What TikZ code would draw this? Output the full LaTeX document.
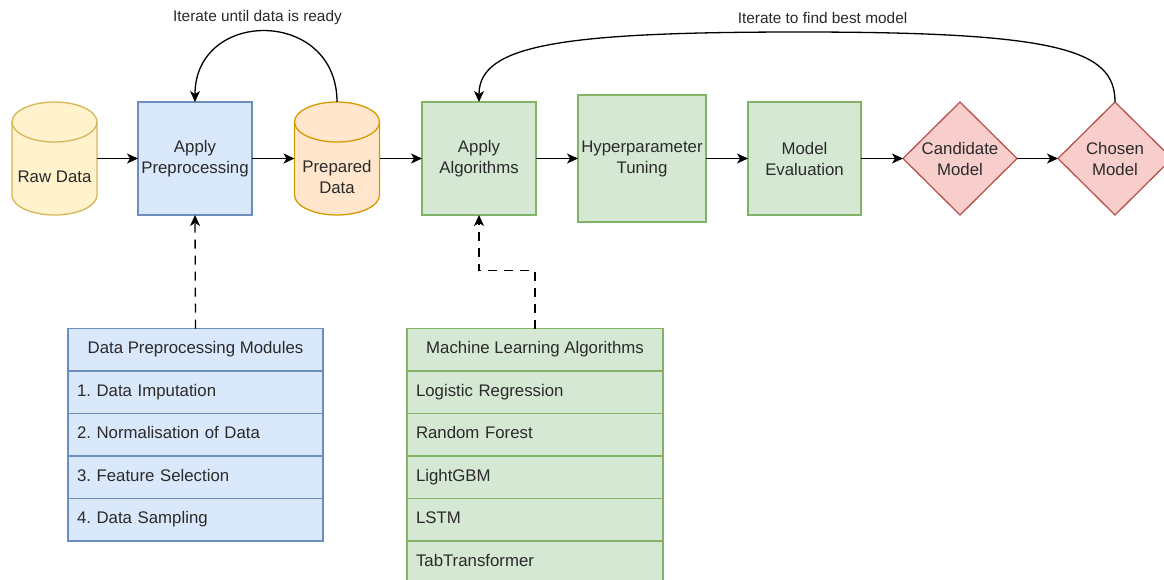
\documentclass[tikz,border=0pt]{standalone}
\usepackage{fontspec}
\setmainfont{Liberation Sans}
\usetikzlibrary{arrows.meta}
\frenchspacing
\definecolor{yfill}{HTML}{FFF2CC}\definecolor{ydraw}{HTML}{D6B656}
\definecolor{bfill}{HTML}{DAE8FC}\definecolor{bdraw}{HTML}{6C8EBF}
\definecolor{ofill}{HTML}{FFE6CC}\definecolor{odraw}{HTML}{D79B00}
\definecolor{gfill}{HTML}{D5E8D4}\definecolor{gdraw}{HTML}{82B366}
\definecolor{rfill}{HTML}{F8CECC}\definecolor{rdraw}{HTML}{B85450}
\definecolor{txt}{HTML}{2A2A2A}
\newcommand{\mycylinder}[3]{%
  \filldraw[fill=#2,draw=#3,line width=1.3pt]
    ([yshift=-20pt]#1.north west) -- ([yshift=20pt]#1.south west)
    arc[start angle=180,end angle=360,x radius=42.5pt,y radius=20pt]
    -- ([yshift=-20pt]#1.north east)
    arc[start angle=0,end angle=180,x radius=42.5pt,y radius=20pt] -- cycle;
  \draw[draw=#3,line width=1.3pt] ([yshift=-20pt]#1.north west)
    arc[start angle=180,end angle=360,x radius=42.5pt,y radius=20pt];}
\newcommand{\mydiamond}[3]{%
  \filldraw[fill=#2,draw=#3,line width=1.3pt]
    (#1.north) -- (#1.east) -- (#1.south) -- (#1.west) -- cycle;}
\tikzset{
  x=1pt,y=1pt,
  every node/.style={text=txt,font=\fontsize{16.8}{21}\selectfont},
  ghost/.style={draw=none,fill=none,inner sep=0pt,outer sep=0pt,minimum width=85pt,minimum height=113pt},
  ghostd/.style={draw=none,fill=none,inner sep=0pt,outer sep=0pt,minimum width=114pt,minimum height=113pt},
  plain/.style={draw=none,fill=none,inner sep=0pt,align=center},
  box/.style={line width=1.3pt,inner sep=0pt,outer sep=0pt,align=center,minimum width=114pt,minimum height=113pt},
  bluebox/.style={box,fill=bfill,draw=bdraw},
  greenbox/.style={box,fill=gfill,draw=gdraw},
  thead/.style={line width=1.3pt,inner sep=0pt,outer sep=0pt,minimum width=255pt,minimum height=42.5pt,align=center,text height=12pt,text depth=4pt},
  trow/.style={line width=1.3pt,inner ysep=0pt,inner xsep=9pt,outer sep=0pt,text width=237pt,minimum height=42.5pt,align=left,text height=12pt,text depth=4pt},
  arr/.style={line width=1.3pt,draw=black,-{Stealth[length=11pt,width=10pt,inset=3pt]}},
  dashline/.style={dash pattern=on 9pt off 7pt},
  lbl/.style={plain,font=\fontsize{15.4}{18}\selectfont}
}
\begin{document}
\begin{tikzpicture}
\useasboundingbox (0,0) rectangle (1164,-579);
\fill[white] (0,0) rectangle (1164,-579);
\clip (0,0) rectangle (1164,-579);
% main row
\node[ghost] (raw) at (54.5,-158.5) {};
\node[bluebox] (app) at (195,-158.5) {Apply\\Preprocessing};
\node[ghost] (prep) at (337,-158.5) {};
\node[greenbox] (alg) at (479,-158.5) {Apply\\Algorithms};
\node[greenbox,minimum width=128pt,minimum height=127pt] (hyp) at (642,-158.5) {Hyperparameter\\Tuning};
\node[greenbox,minimum width=113pt] (eval) at (804.5,-158.5) {Model\\Evaluation};
\node[ghostd] (cand) at (960,-158.5) {};
\node[ghostd] (chos) at (1115,-158.5) {};
\mycylinder{raw}{yfill}{ydraw}
\mycylinder{prep}{ofill}{odraw}
\mydiamond{cand}{rfill}{rdraw}
\mydiamond{chos}{rfill}{rdraw}
\node[plain] (rawt) at (54.5,-177) {Raw Data};
\node[plain] (prept) at (337,-177) {Prepared\\Data};
\node[plain] (candt) at (cand) {Candidate\\Model};
\node[plain] (chost) at (chos) {Chosen\\Model};
% arrows
\draw[arr] (raw.east) -- (app.west);
\draw[arr] (app.east) -- (prep.west);
\draw[arr] (prep.east) -- (alg.west);
\draw[arr] (alg.east) -- (hyp.west);
\draw[arr] (hyp.east) -- (eval.west);
\draw[arr] (eval.east) -- (cand.west);
\draw[arr] (cand.east) -- (chos.west);
% loops
\draw[arr] (prep.north) .. controls +(0,94) and +(0,94) .. (app.north);
\coordinate (top2) at (800,-32);
\draw[arr] (chos.north) .. controls (1115,-50) and (1060,-32) .. (top2)
  .. controls (560,-32) and (479,-45) .. (alg.north);
\node[lbl] (l1) at (257.5,-18) {Iterate until data is ready};
\node[lbl] (l2) at (822.5,-18) {Iterate to find best model};
% tables
\node[thead,fill=bfill,draw=bdraw] (dpmh) at (195.5,-349.75) {Data Preprocessing Modules};
\node[trow,fill=bfill,draw=bdraw] (dpm1) at (195.5,-392.25) {1. Data Imputation};
\node[trow,fill=bfill,draw=bdraw] (dpm2) at (195.5,-434.75) {2. Normalisation of Data};
\node[trow,fill=bfill,draw=bdraw] (dpm3) at (195.5,-477.25) {3. Feature Selection};
\node[trow,fill=bfill,draw=bdraw] (dpm4) at (195.5,-519.75) {4. Data Sampling};
\node[thead,fill=gfill,draw=gdraw,minimum width=256pt] (mlah) at (535,-349.75) {Machine Learning Algorithms};
\node[trow,fill=gfill,draw=gdraw,text width=238pt] (ml1) at (535,-392.25) {Logistic Regression};
\node[trow,fill=gfill,draw=gdraw,text width=238pt] (ml2) at (535,-434.75) {Random Forest};
\node[trow,fill=gfill,draw=gdraw,text width=238pt] (ml3) at (535,-477.25) {LightGBM};
\node[trow,fill=gfill,draw=gdraw,text width=238pt] (ml4) at (535,-519.75) {LSTM};
\node[trow,fill=gfill,draw=gdraw,text width=238pt] (ml5) at (535,-562.25) {TabTransformer};
% dashed connectors
\draw[arr,dashline] (dpmh.north) -- (app.south);
\draw[arr,dashline] (mlah.north) -- ++(0,58) -| (alg.south);
\end{tikzpicture}
\end{document}
